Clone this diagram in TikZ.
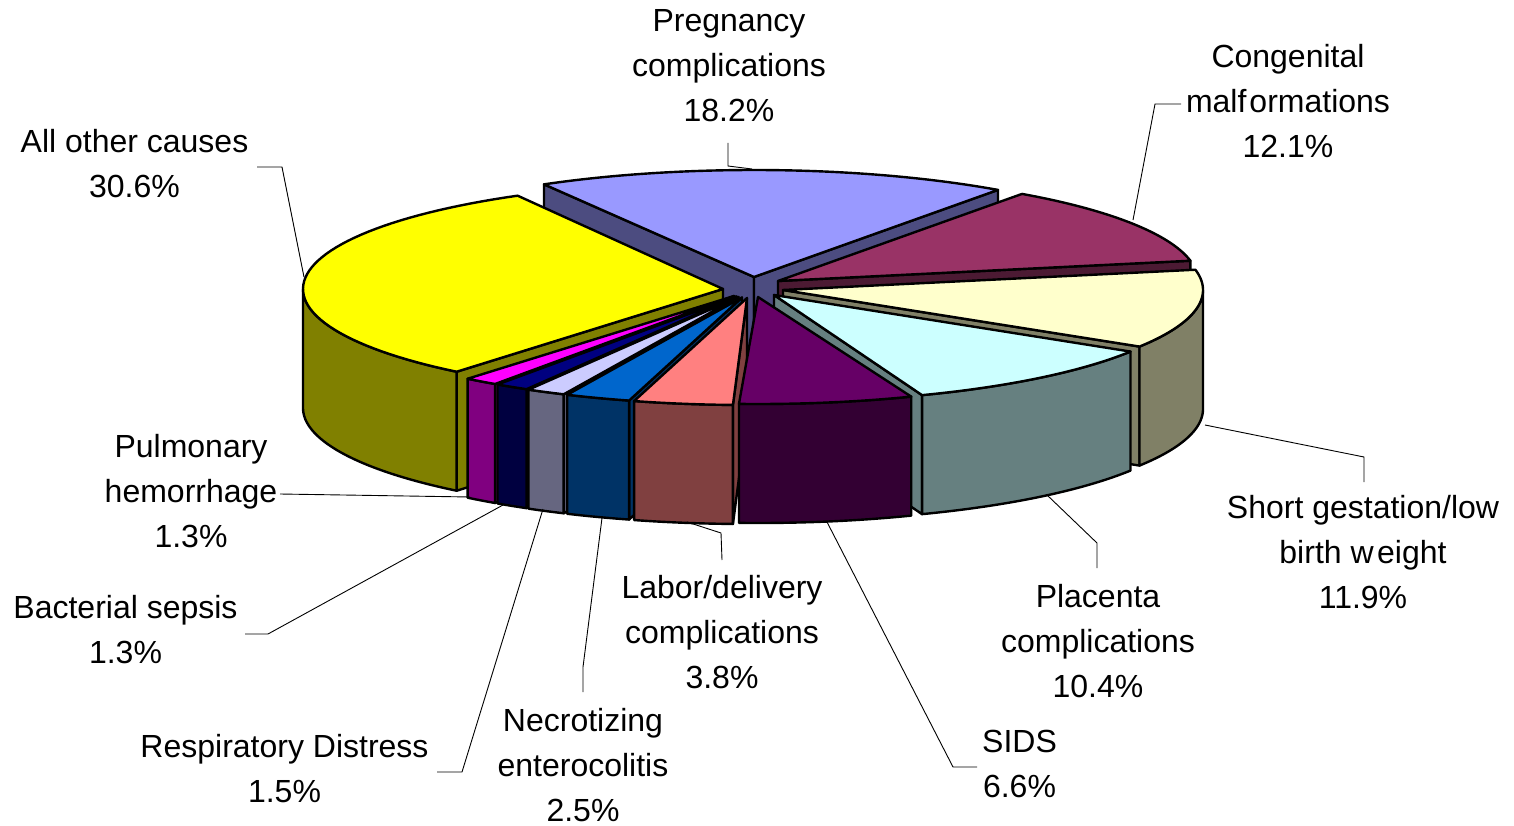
\documentclass[tikz,border=0pt]{standalone}
\usepackage{fontspec}
\setmainfont{Liberation Sans}
\definecolor{pregT}{HTML}{9999FF}\definecolor{pregS}{HTML}{4C4C80}
\definecolor{congT}{HTML}{993366}\definecolor{congS}{HTML}{4C1A33}
\definecolor{shortT}{HTML}{FFFFCC}\definecolor{shortS}{HTML}{808066}
\definecolor{placT}{HTML}{CCFFFF}\definecolor{placS}{HTML}{668080}
\definecolor{sidsT}{HTML}{660066}\definecolor{sidsS}{HTML}{330033}
\definecolor{laborT}{HTML}{FF8080}\definecolor{laborS}{HTML}{804040}
\definecolor{necT}{HTML}{0066CC}\definecolor{necS}{HTML}{003366}
\definecolor{respT}{HTML}{CCCCFF}\definecolor{respS}{HTML}{666680}
\definecolor{bactT}{HTML}{000080}\definecolor{bactS}{HTML}{000040}
\definecolor{pulmT}{HTML}{FF00FF}\definecolor{pulmS}{HTML}{800080}
\definecolor{otherT}{HTML}{FFFF00}\definecolor{otherS}{HTML}{808000}
\def\Rx{420}\def\Ry{107}\def\Dp{119}
\newcommand\radface[4]{%
  \filldraw[pieline, fill=#4] (#1,#2) -- ({#1+\Rx*cos(#3)},{#2-\Ry*sin(#3)}) -- ({#1+\Rx*cos(#3)},{#2-\Ry*sin(#3)+\Dp}) -- (#1,{#2+\Dp}) -- cycle;}
\newcommand\outerside[5]{%
  \filldraw[pieline, fill=#5] plot[domain=#3:#4, samples=60] ({#1+\Rx*cos(\x)},{#2-\Ry*sin(\x)}) -- plot[domain=#4:#3, samples=60] ({#1+\Rx*cos(\x)},{#2-\Ry*sin(\x)+\Dp}) -- cycle;}
\newcommand\topface[5]{%
  \filldraw[pieline, fill=#5] (#1,#2) -- plot[domain=#3:#4, samples=60] ({#1+\Rx*cos(\x)},{#2-\Ry*sin(\x)}) -- cycle;}
\begin{document}
\begin{tikzpicture}[x=1pt,y=-1pt,
  pieline/.style={draw=black, line width=2.4pt, line join=round},
  lbl/.style={font=\fontsize{32}{45}\selectfont, align=center, inner sep=0pt},
  leader/.style={draw=black, line width=0.9pt}]
\useasboundingbox (0,0) rectangle (1514,826);
% Pregnancy complications
\radface{754}{277}{120}{pregS}
\radface{754}{277}{54.48}{pregS}
\topface{754}{277}{54.48}{120}{pregT}
% Congenital malformations
\radface{778}{281}{10.92}{congS}
\topface{778}{281}{10.92}{54.48}{congT}
% All other causes
\radface{723}{289}{230.64}{otherS}
\outerside{723}{289}{180}{230.64}{otherS}
\topface{723}{289}{119.28}{230.64}{otherT}
% Short gestation
\radface{783}{290}{-31.92}{shortS}
\outerside{783}{290}{-31.92}{0}{shortS}
\topface{783}{290}{-31.92}{10.92}{shortT}
% Placenta
\radface{774}{295}{-69.36}{placS}
\outerside{774}{295}{-69.36}{-31.92}{placS}
\topface{774}{295}{-69.36}{-31.92}{placT}
% Pulmonary hemorrhage
\radface{734}{296}{-124.68}{pulmS}
\outerside{734}{296}{-129.36}{-124.68}{pulmS}
\topface{734}{296}{-129.36}{-124.68}{pulmT}
% Bacterial sepsis
\radface{736.5}{296.5}{-120}{bactS}
\outerside{736.5}{296.5}{-124.68}{-120}{bactS}
\topface{736.5}{296.5}{-124.68}{-120}{bactT}
% Respiratory distress
\radface{738.5}{297}{-114.6}{respS}
\outerside{738.5}{297}{-120}{-114.6}{respS}
\topface{738.5}{297}{-120}{-114.6}{respT}
% Necrotizing enterocolitis
\radface{742}{297.5}{-105.6}{necS}
\outerside{742}{297.5}{-114.6}{-105.6}{necS}
\topface{742}{297.5}{-114.6}{-105.6}{necT}
% Labor/delivery
\radface{747}{298}{-91.92}{laborS}
\outerside{747}{298}{-105.6}{-91.92}{laborS}
\topface{747}{298}{-105.6}{-91.92}{laborT}
% SIDS
\outerside{758}{297}{-92.6}{-68.6}{sidsS}
\topface{758}{297}{-92.6}{-68.6}{sidsT}

% labels
\node[lbl] (preg) at (729,66) {Pregnancy\\complications\\18.2\%};
\node[lbl] (cong) at (1288,101.5) {Congenital\\{\spaceskip=3pt\relax malf ormations}\\12.1\%};
\node[lbl] (other) at (134.5,163.5) {All other causes\\30.6\%};
\node[lbl] (pulm) at (191,491) {Pulmonary\\hemorrhage\\1.3\%};
\node[lbl] (bact) at (125.5,630) {Bacterial sepsis\\1.3\%};
\node[lbl] (resp) at (284.5,768.5) {Respiratory Distress\\1.5\%};
\node[lbl] (nec) at (583,765) {Necrotizing\\enterocolitis\\2.5\%};
\node[lbl] (labor) at (722,632) {Labor/delivery\\complications\\3.8\%};
\node[lbl] (sids) at (1019.5,763.5) {SIDS\\6.6\%};
\node[lbl] (plac) at (1098,641.5) {Placenta\\complications\\10.4\%};
\node[lbl] (short) at (1363,552) {Short gestation/low\\{birth {\spaceskip=3.5pt\relax w eight}}\\11.9\%};

% leader lines
\coordinate (pregA) at (728,143); \coordinate (pregB) at (752,169);
\draw[leader] (pregA) -- (728,166) -- (pregB);
\coordinate (congA) at (1181,104); \coordinate (congB) at (1133,220);
\draw[leader] (congA) -- (1155,104) -- (congB);
\coordinate (otherA) at (257,167); \coordinate (otherB) at (304,277);
\draw[leader] (otherA) -- (282,167) -- (otherB);
\coordinate (shortA) at (1364,482); \coordinate (shortB) at (1205,425);
\draw[leader] (shortA) -- (1364,457) -- (shortB);
\coordinate (placA) at (1097,568); \coordinate (placB) at (1047,495);
\draw[leader] (placA) -- (1097,543) -- (placB);
\coordinate (sidsA) at (977,767); \coordinate (sidsB) at (827,522);
\draw[leader] (sidsA) -- (953,767) -- (sidsB);
\coordinate (laborA) at (722,560); \coordinate (laborB) at (687,522);
\draw[leader] (laborA) -- (721,533) -- (laborB);
\coordinate (necA) at (583,692); \coordinate (necB) at (602,518);
\draw[leader] (necA) -- (583,667) -- (necB);
\coordinate (respA) at (437,772); \coordinate (respB) at (543,509);
\draw[leader] (respA) -- (462,772) -- (respB);
\coordinate (bactA) at (245,634); \coordinate (bactB) at (503,505);
\draw[leader] (bactA) -- (268,634) -- (bactB);
\coordinate (pulmA) at (280,494); \coordinate (pulmB) at (470,497);
\draw[leader] (pulmA) -- (pulmB);
\end{tikzpicture}
\end{document}
